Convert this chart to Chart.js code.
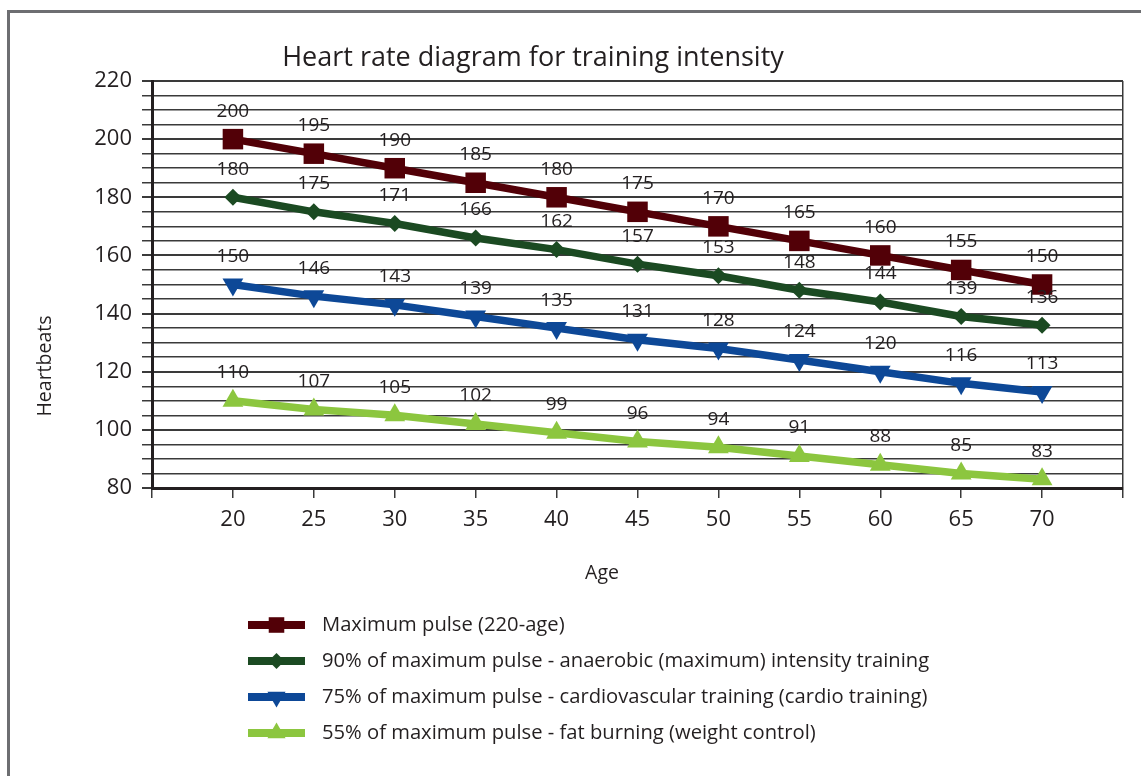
<!DOCTYPE html>
<html>
<head>
<meta charset="utf-8">
<title>Heart rate diagram</title>
<script src="https://cdn.jsdelivr.net/npm/chart.js@4.4.0/dist/chart.umd.min.js"></script>
<style>
  html, body { margin:0; padding:0; background:#fff; }
  #frame { position:absolute; left:7px; top:10px; width:1200px; height:820px; border:3px solid #6d6e71; box-sizing:border-box; }
  #wrap { position:absolute; left:0; top:0; width:1141px; height:776px; }
</style>
</head>
<body>
<div id="frame"></div>
<div id="wrap"><canvas id="cHeart"></canvas></div>
<script>
// dados
const ages = [20, 25, 30, 35, 40, 45, 50, 55, 60, 65, 70];
const maxPulse  = [200, 195, 190, 185, 180, 175, 170, 165, 160, 155, 150];
const pulse90   = [180, 175, 171, 166, 162, 157, 153, 148, 144, 139, 136];
const pulse75   = [150, 146, 143, 139, 135, 131, 128, 124, 120, 116, 113];
const pulse55   = [110, 107, 105, 102, 99, 96, 94, 91, 88, 85, 83];
const seriesNames = [
  'Maximum pulse (220-age)',
  '90% of maximum pulse - anaerobic (maximum) intensity training',
  '75% of maximum pulse - cardiovascular training (cardio training)',
  '55% of maximum pulse - fat burning (weight control)'
];
const yTicks = [80, 100, 120, 140, 160, 180, 200, 220];

const FONT = '"Open Sans", "DejaVu Sans", sans-serif';
const TXT = '#231f20';

const pts = arr => ages.map((a, i) => ({ x: a, y: arr[i] }));

function ds(label, arr, color, style, r, legR, rot){
  return {
    label, data: pts(arr), borderColor: color, backgroundColor: color,
    borderWidth: 7.5, pointStyle: style, pointRadius: r, pointHoverRadius: r,
    pointRotation: rot || 0, pointBorderWidth: 0, tension: 0, fill: false,
    legendR: legR
  };
}

// rótulos de valor acima dos pontos
const valueLabels = {
  id: 'valueLabels',
  afterDatasetsDraw(chart){
    const ctx = chart.ctx;
    ctx.save();
    ctx.font = '19px ' + FONT;
    ctx.fillStyle = TXT;
    ctx.textAlign = 'center';
    ctx.textBaseline = 'middle';
    chart.data.datasets.forEach((d, di) => {
      chart.getDatasetMeta(di).data.forEach((el, i) => {
        ctx.fillText(String(d.data[i].y), el.x, el.y - 28);
      });
    });
    ctx.restore();
  }
};

// título, nomes dos eixos e legenda
const extras = {
  id: 'extras',
  afterDraw(chart){
    const ctx = chart.ctx;
    ctx.save();
    ctx.fillStyle = TXT;
    ctx.textBaseline = 'middle';
    ctx.textAlign = 'center';
    ctx.font = '27px ' + FONT;
    ctx.fillText('Heart rate diagram for training intensity', 533, 58);

    ctx.font = '19.5px ' + FONT;
    ctx.fillText('Age', 602, 573);
    ctx.save();
    ctx.translate(45, 366);
    ctx.rotate(-Math.PI / 2);
    ctx.fillText('Heartbeats', 0, 0);
    ctx.restore();

    // legenda
    ctx.textAlign = 'left';
    ctx.font = '20.2px ' + FONT;
    chart.data.datasets.forEach((d, i) => {
      const y = 625 + i * 36;
      ctx.strokeStyle = d.borderColor;
      ctx.lineWidth = 8;
      ctx.beginPath(); ctx.moveTo(248, y); ctx.lineTo(305, y); ctx.stroke();
      ctx.fillStyle = d.backgroundColor;
      if (Chart.helpers && Chart.helpers.drawPoint) {
        Chart.helpers.drawPoint(ctx, { pointStyle: d.pointStyle, radius: d.legendR, rotation: d.pointRotation, borderWidth: 0 }, 276.5, y);
      }
      ctx.fillStyle = TXT;
      ctx.fillText(d.label, 322, y);
    });
    ctx.restore();
  }
};

const chart = new Chart(document.getElementById('cHeart'), {
  type: 'line',
  data: {
    datasets: [
      ds(seriesNames[0], maxPulse, '#520007', 'rect', 14.5, 11),
      ds(seriesNames[1], pulse90, '#1b4a22', 'rectRot', 8.5, 8),
      ds(seriesNames[2], pulse75, '#0d4897', 'triangle', 12, 10.5, 180),
      ds(seriesNames[3], pulse55, '#8cc63f', 'triangle', 12, 10.5)
    ]
  },
  options: {
    responsive: true, maintainAspectRatio: false, animation: false,
    layout: { padding: { left: 0, top: 81, right: 18, bottom: 228 } },
    plugins: { legend: { display: false }, title: { display: false }, tooltip: { enabled: false } },
    scales: {
      x: {
        type: 'linear', min: 15, max: 75,
        afterFit: s => { s.height = 60; },
        ticks: {
          stepSize: 5, autoSkip: false, padding: 9,
          color: TXT, font: { family: FONT, size: 22 },
          callback: v => ages.includes(v) ? String(v) : ''
        },
        grid: {
          drawOnChartArea: true, tickLength: 10, tickColor: '#3a3a3a', tickWidth: 1.5,
          color: c => c.tick && c.tick.value === 75 ? '#3a3a3a' : 'rgba(0,0,0,0)',
          lineWidth: 1.5
        },
        border: { display: true, color: TXT, width: 3 }
      },
      y: {
        min: 80, max: 220,
        afterFit: s => { s.width = 152; },
        ticks: {
          stepSize: 5, autoSkip: false, padding: 10,
          color: TXT, font: { family: FONT, size: 22 },
          callback: v => yTicks.includes(v) ? String(v) : ''
        },
        grid: {
          tickLength: 10, color: '#3a3a3a',
          lineWidth: c => c.tick && c.tick.value % 20 === 0 ? 2 : 1.5
        },
        border: { display: true, color: TXT, width: 3 }
      }
    }
  },
  plugins: [valueLabels, extras]
});
</script>
</body>
</html>
